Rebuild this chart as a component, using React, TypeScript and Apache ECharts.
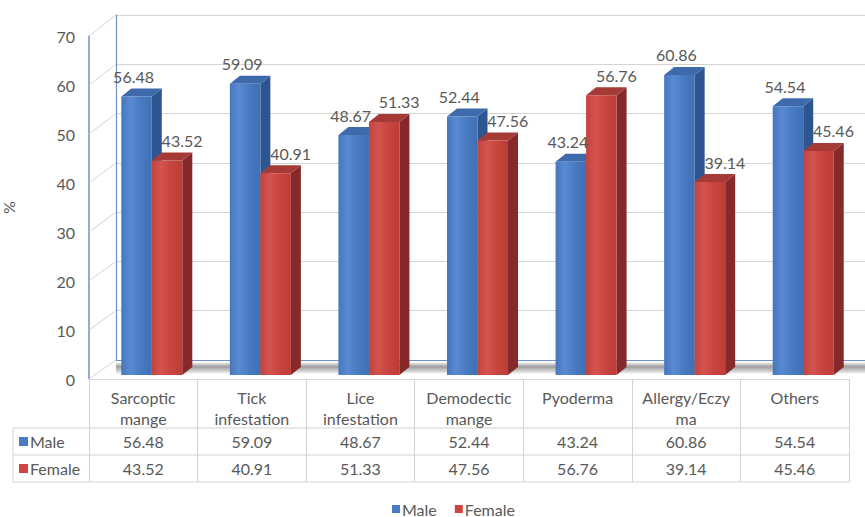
import React, { useEffect, useRef } from 'react';
import * as echarts from 'echarts';

// ---- data ----
const categories = [
  'Sarcoptic\nmange',
  'Tick\ninfestation',
  'Lice\ninfestation',
  'Demodectic\nmange',
  'Pyoderma',
  'Allergy/Eczy\nma',
  'Others',
];
const seriesNames = ['Male', 'Female'];
const maleValues = [56.48, 59.09, 48.67, 52.44, 43.24, 60.86, 54.54];
const femaleValues = [43.52, 40.91, 51.33, 47.56, 56.76, 39.14, 45.46];
const yTicks = [0, 10, 20, 30, 40, 50, 60, 70];

// ---- layout ----
const FL = 89, FT = 36, FW = 760, FH = 343; // front plane
const BL = 116, BT = 15, BH = 345; // back wall
const TXT = '#595959';
const FONT = 'Lato';
const FS = 16;
const GRIDC = '#D4D4D4';
const AXISBLUE = '#6F90C4';

const COLORS = [
  { front: ['#4676BC', '#5A8BD2', '#4A7CC3', '#3F6FB4'], side: '#2D5690', top: '#3E6AAC', legend: '#4A7CC4' },
  { front: ['#C4423E', '#D3544F', '#C9463F', '#BC3C37'], side: '#86292A', top: '#A63A36', legend: '#CF4343' },
];
const LABEL_DX = [-3, 15];

function barRenderer(s: number) {
  return (params: any, api: any) => {
    const idx = api.value(0);
    const val = api.value(1);
    const bw = api.size([1, 0])[0];
    const base = api.coord([idx, 0]);
    const tp = api.coord([idx, val]);
    const u = bw / 108.57;
    const w = 30.5 * u;
    const x0 = base[0] - bw / 2 + (32.3 + s * 30.5) * u;
    const yb = base[1] - 4;
    const yt = yb - (base[1] - tp[1]) * 1.006;
    const dx = 10, dy = -8;
    const c = COLORS[s];
    return {
      type: 'group',
      children: [
        {
          type: 'polygon',
          shape: { points: [[x0 + w, yb], [x0 + w + dx, yb + dy], [x0 + w + dx, yt + dy], [x0 + w, yt]] },
          style: { fill: c.side },
        },
        {
          type: 'polygon',
          shape: { points: [[x0, yt], [x0 + dx, yt + dy], [x0 + w + dx, yt + dy], [x0 + w, yt]] },
          style: { fill: c.top },
        },
        {
          type: 'rect',
          shape: { x: x0, y: yt, width: w, height: yb - yt },
          style: {
            fill: new echarts.graphic.LinearGradient(0, 0, 1, 0, [
              { offset: 0, color: c.front[0] },
              { offset: 0.3, color: c.front[1] },
              { offset: 0.6, color: c.front[2] },
              { offset: 1, color: c.front[3] },
            ]),
          },
        },
        {
          type: 'text',
          x: x0 + w / 2 + LABEL_DX[s],
          y: yt - 20,
          z2: 10,
          style: {
            text: val.toFixed(2),
            fill: TXT,
            fontSize: FS,
            fontFamily: FONT,
            align: 'center',
            verticalAlign: 'middle',
          },
        },
      ],
    };
  };
}

export default function App() {
  const ref = useRef<HTMLDivElement>(null);
  useEffect(() => {
    if (!ref.current) return;
    const chart = echarts.init(ref.current, undefined, { renderer: 'svg' });
    const tableRight = FL + FW;
    const rowLines = [428, 455, 482];
    const rowCenters = [441.5, 468.5];

    const graphics: any[] = [
      // floor shadow band
      {
        type: 'rect',
        z: 1,
        shape: { x: BL, y: 362, width: 865 - BL, height: 12 },
        style: {
          fill: new echarts.graphic.LinearGradient(0, 0, 0, 1, [
            { offset: 0, color: 'rgba(0,0,0,0)' },
            { offset: 0.4, color: 'rgba(40,40,40,0.45)' },
            { offset: 0.6, color: 'rgba(60,60,60,0.35)' },
            { offset: 1, color: 'rgba(0,0,0,0)' },
          ]),
        },
        silent: true,
      },
      ...rowLines.map((y) => ({
        type: 'line',
        shape: { x1: 13, y1: y, x2: tableRight, y2: y },
        style: { stroke: GRIDC, lineWidth: 1 },
        silent: true,
      })),
      {
        type: 'line',
        shape: { x1: 13, y1: rowLines[0], x2: 13, y2: rowLines[2] },
        style: { stroke: GRIDC, lineWidth: 1 },
        silent: true,
      },
      ...seriesNames.flatMap((n, i) => [
        {
          type: 'rect',
          shape: { x: 19, y: rowCenters[i] - 4.5, width: 9, height: 9 },
          style: { fill: COLORS[i].legend },
        },
        {
          type: 'text',
          x: 30,
          y: rowCenters[i],
          style: { text: n, fill: TXT, fontSize: FS, fontFamily: FONT, verticalAlign: 'middle' },
        },
      ]),
    ];

    chart.setOption({
      animation: false,
      backgroundColor: '#fff',
      textStyle: { fontFamily: FONT },
      legend: {
        data: seriesNames,
        left: 392,
        top: 501,
        padding: 0,
        icon: 'rect',
        itemWidth: 8,
        itemHeight: 8,
        itemGap: 18,
        textStyle: { color: TXT, fontSize: FS, fontFamily: FONT, padding: [0, 0, 0, -3] },
      },
      grid: [
        { left: FL, top: FT, width: FW, height: FH, containLabel: false, outerBoundsMode: 'none' },
        { left: BL, top: BT, width: 865 - BL, height: BH, containLabel: false, outerBoundsMode: 'none' },
      ],
      xAxis: [
        {
          gridIndex: 0,
          type: 'category',
          data: categories,
          axisLine: { show: true, lineStyle: { color: GRIDC, width: 1 } },
          axisTick: { show: true, interval: 0, length: 103, lineStyle: { color: GRIDC } },
          axisLabel: {
            interval: 0,
            margin: 8,
            lineHeight: 21,
            color: TXT,
            fontSize: FS,
            fontFamily: FONT,
          },
        },
        {
          gridIndex: 1,
          type: 'value',
          min: 0,
          max: 1,
          axisLine: { show: true, onZero: false, lineStyle: { color: AXISBLUE, width: 1.2 } },
          axisTick: { show: false },
          axisLabel: { show: false },
          splitLine: { show: false },
        },
        {
          gridIndex: 0,
          type: 'category',
          data: maleValues.map((v) => v.toFixed(2)),
          position: 'bottom',
          offset: rowCenters[0] - (FT + FH),
          axisLine: { show: false },
          axisTick: { show: false },
          axisLabel: { interval: 0, margin: 0, verticalAlign: 'middle', color: TXT, fontSize: FS, fontFamily: FONT },
        },
        {
          gridIndex: 0,
          type: 'category',
          data: femaleValues.map((v) => v.toFixed(2)),
          position: 'bottom',
          offset: rowCenters[1] - (FT + FH),
          axisLine: { show: false },
          axisTick: { show: false },
          axisLabel: { interval: 0, margin: 0, verticalAlign: 'middle', color: TXT, fontSize: FS, fontFamily: FONT },
        },
      ],
      yAxis: [
        {
          gridIndex: 0,
          type: 'value',
          min: 0,
          max: 70,
          interval: 10,
          name: '%',
          nameLocation: 'middle',
          nameGap: 73,
          nameRotate: 90,
          nameTextStyle: { color: TXT, fontSize: FS, fontFamily: FONT },
          axisLine: { show: true, lineStyle: { color: AXISBLUE, width: 1.5 } },
          axisTick: { show: false },
          axisLabel: { margin: 14, color: TXT, fontSize: FS, fontFamily: FONT },
          splitLine: { show: false },
        },
        {
          gridIndex: 1,
          type: 'value',
          min: 0,
          max: 70,
          interval: 10,
          axisLine: { show: true, lineStyle: { color: AXISBLUE, width: 1.2 } },
          axisTick: { show: false },
          axisLabel: { show: false },
          splitLine: { show: true, lineStyle: { color: GRIDC, width: 1 } },
        },
      ],
      graphic: graphics,
      series: [
        {
          name: 'wall',
          type: 'custom',
          xAxisIndex: 0,
          yAxisIndex: 0,
          silent: true,
          z: 1,
          data: yTicks.map((v) => [0, v]),
          renderItem: (params: any, api: any) => {
            const v = api.value(1);
            const bw = api.size([1, 0])[0];
            const p = api.coord([0, v]);
            const x = p[0] - bw / 2;
            const backY = BT + BH * (1 - v / 70);
            return {
              type: 'line',
              shape: { x1: x, y1: p[1], x2: BL, y2: backY },
              style: { stroke: GRIDC, lineWidth: 1 },
            };
          },
        },
        {
          name: seriesNames[0],
          type: 'custom',
          xAxisIndex: 0,
          yAxisIndex: 0,
          z: 2,
          itemStyle: { color: COLORS[0].legend },
          data: maleValues.map((v, i) => [i, v]),
          renderItem: barRenderer(0),
        },
        {
          name: seriesNames[1],
          type: 'custom',
          xAxisIndex: 0,
          yAxisIndex: 0,
          z: 2,
          itemStyle: { color: COLORS[1].legend },
          data: femaleValues.map((v, i) => [i, v]),
          renderItem: barRenderer(1),
        },
      ],
    });
    return () => chart.dispose();
  }, []);
  return (
    <div
      ref={ref}
      style={{ position: 'fixed', left: 0, top: 0, width: 865, height: 517, background: '#fff' }}
    />
  );
}
